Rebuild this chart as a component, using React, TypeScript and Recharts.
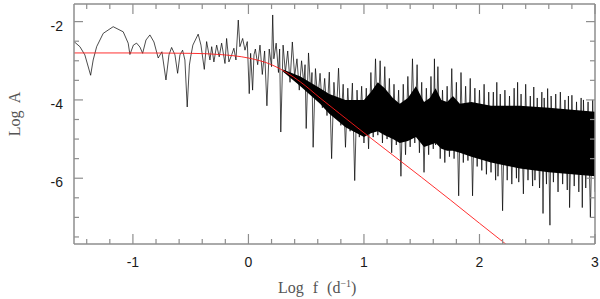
import React from 'react';
import { ComposedChart, Line, Area, XAxis, YAxis } from 'recharts';

// resolved low-frequency part of the spectrum [log f, log A]
const lowPart: [number, number][] = [
  [-1.51, -2.51], [-1.459, -2.64], [-1.416, -2.85], [-1.366, -3.37], [-1.344, -2.98], [-1.314, -2.64],
  [-1.257, -2.3], [-1.171, -2.13], [-1.084, -2.26], [-1.041, -2.55], [-1.026, -2.84], [-0.996, -2.6],
  [-0.968, -2.55], [-0.939, -2.65], [-0.916, -2.81], [-0.887, -2.47], [-0.853, -2.34], [-0.818, -2.52],
  [-0.781, -2.93], [-0.749, -2.77], [-0.714, -3.49], [-0.688, -2.85], [-0.665, -2.66], [-0.636, -2.85],
  [-0.613, -3.32], [-0.593, -2.85], [-0.57, -2.73], [-0.55, -2.98], [-0.53, -4.18], [-0.511, -3.11],
  [-0.5, -2.9], [-0.481, -2.6], [-0.435, -2.32], [-0.411, -2.6], [-0.382, -3.22], [-0.362, -2.51],
  [-0.333, -2.98], [-0.318, -2.64], [-0.299, -3.03], [-0.275, -2.6], [-0.253, -2.9], [-0.232, -2.55],
  [-0.203, -3.07], [-0.189, -2.43], [-0.169, -3.03], [-0.145, -2.85], [-0.126, -2.68], [-0.108, -2.98],
  [-0.088, -1.96], [-0.074, -2.64], [-0.05, -2.43], [-0.03, -2.73], [-0.01, -2.51], [0.007, -3.84],
  [0.019, -2.81], [0.036, -3.75], [0.048, -2.85],
];

// noisy high-frequency part, read as alternating tips
const noisePart: [number, number][] = [
  [0.06, -2.7], [0.08, -3.1], [0.1, -2.6], [0.12, -3.35], [0.14, -2.75], [0.16, -4.15], [0.18, -2.7], [0.2, -3.15], [0.21, -1.83], [0.22, -2.95],
  [0.24, -2.55], [0.26, -3.3], [0.27, -2.7], [0.28, -4.82], [0.3, -2.6], [0.32, -3.3], [0.34, -2.75], [0.36, -3.55], [0.38, -2.52], [0.4, -3.4],
  [0.42, -2.95], [0.44, -3.75], [0.46, -3.0], [0.48, -3.6], [0.49, -3.1], [0.5, -4.73], [0.52, -2.8], [0.54, -3.85], [0.55, -3.3], [0.56, -5.21],
  [0.58, -3.2], [0.6, -4.0], [0.62, -3.32], [0.64, -4.2], [0.66, -3.45], [0.68, -4.4], [0.7, -3.29], [0.72, -5.5], [0.74, -3.55], [0.76, -4.45],
  [0.78, -3.19], [0.8, -4.65], [0.82, -3.6], [0.84, -5.21], [0.86, -3.7], [0.88, -4.8], [0.9, -3.57], [0.92, -6.06], [0.94, -3.75], [0.96, -4.95],
  [0.98, -3.65], [1.0, -5.1], [1.02, -3.7], [1.04, -5.25], [1.06, -3.3], [1.08, -4.95], [1.1, -2.95], [1.12, -4.9], [1.14, -3.0], [1.16, -5.1],
  [1.18, -3.15], [1.2, -5.0], [1.22, -3.45], [1.24, -5.35], [1.26, -3.6], [1.28, -5.15], [1.3, -3.75], [1.32, -5.95], [1.34, -3.6], [1.36, -5.4],
  [1.38, -3.4], [1.4, -5.2], [1.42, -2.95], [1.44, -5.1], [1.46, -3.1], [1.48, -5.35], [1.5, -3.55], [1.52, -5.85], [1.54, -3.7], [1.56, -5.4],
  [1.58, -3.4], [1.6, -5.25], [1.61, -2.95], [1.62, -5.15], [1.64, -3.15], [1.66, -5.5], [1.68, -3.75], [1.7, -5.6], [1.72, -3.65], [1.74, -5.45],
  [1.76, -3.2], [1.78, -5.5], [1.8, -3.55], [1.82, -6.45], [1.84, -3.3], [1.86, -5.6], [1.88, -3.65], [1.9, -5.55], [1.92, -3.45], [1.94, -6.45],
  [1.96, -3.7], [1.98, -5.7], [2.0, -3.75], [2.02, -5.8], [2.04, -3.6], [2.06, -5.9], [2.08, -3.8], [2.1, -5.85], [2.12, -3.8], [2.14, -6.05],
  [2.15, -3.55], [2.16, -5.95], [2.18, -3.85], [2.2, -6.83], [2.22, -3.75], [2.24, -6.05], [2.26, -3.9], [2.28, -6.15], [2.3, -3.7], [2.32, -6.0],
  [2.33, -3.55], [2.34, -6.1], [2.36, -3.85], [2.38, -6.4], [2.4, -3.6], [2.42, -6.05], [2.44, -3.9], [2.46, -6.2], [2.47, -3.67], [2.48, -6.05],
  [2.5, -3.95], [2.52, -6.25], [2.54, -3.8], [2.55, -6.9], [2.56, -3.95], [2.58, -6.15], [2.59, -3.71], [2.61, -7.2], [2.62, -3.9], [2.64, -6.1],
  [2.66, -3.85], [2.68, -6.35], [2.7, -3.8], [2.72, -6.15], [2.74, -4.0], [2.76, -6.3], [2.77, -3.9], [2.78, -6.75], [2.8, -3.88], [2.82, -6.2],
  [2.84, -4.05], [2.86, -6.35], [2.88, -3.95], [2.89, -6.75], [2.9, -4.0], [2.92, -6.25], [2.94, -4.05], [2.96, -7.0], [2.98, -4.0], [3.0, -6.35],
];

// dense core of the noise
const bandF = [0.3, 0.45, 0.62, 0.7, 0.84, 1.0, 1.06, 1.12, 1.18, 1.25, 1.31, 1.38, 1.45, 1.52, 1.57, 1.62, 1.67, 1.72, 1.77, 1.83, 1.93, 2.1, 2.35, 2.6, 2.8, 3.0];
const bandHi = [-3.22, -3.4, -3.7, -3.85, -4.0, -4.0, -3.8, -3.55, -3.7, -3.95, -4.1, -3.95, -3.65, -4.05, -3.95, -3.7, -4.0, -4.05, -3.9, -4.1, -4.05, -4.15, -4.15, -4.2, -4.25, -4.3];
const bandLo = [-3.28, -3.65, -4.1, -4.35, -4.7, -4.95, -4.85, -4.8, -4.9, -5.0, -5.1, -5.05, -4.95, -5.2, -5.15, -5.1, -5.25, -5.3, -5.3, -5.35, -5.45, -5.6, -5.75, -5.85, -5.9, -5.95];

// red model curve
const modelF = [-1.51, -1.0, -0.5, -0.25, 0.0, 0.2, 0.45, 0.62, 0.79, 1.0, 1.25, 1.5, 1.75, 2.0, 2.24];
const modelA = [-2.8, -2.8, -2.81, -2.84, -2.93, -3.1, -3.54, -3.95, -4.35, -4.84, -5.41, -5.98, -6.56, -7.15, -7.71];

const xTicks = [-1.4, -1.2, -1, -0.8, -0.6, -0.4, -0.2, 0, 0.2, 0.4, 0.6, 0.8, 1, 1.2, 1.4, 1.6, 1.8, 2, 2.2, 2.4, 2.6, 2.8, 3];
const yTicks = [-7.5, -7, -6.5, -6, -5.5, -5, -4.5, -4, -3.5, -3, -2.5, -2];
const yLabels = [-2, -4, -6];

const spectrum = [...lowPart, ...noisePart].map(([f, a]) => ({ f, a }));
const band = bandF.map((f, i) => ({ f, r: [bandLo[i], bandHi[i]] }));
const model = modelF.map((f, i) => ({ f, a: modelA[i] }));

const frame = '#8e8e8e';
const sans = '"Liberation Sans", Arial, sans-serif';
const serif = '"Liberation Serif", "Times New Roman", serif';

const isInt = (v: number) => Math.abs(v - Math.round(v)) < 1e-6;

const BottomTick = (props: any) => {
  const { x, y, payload } = props;
  const v = payload.value;
  const major = isInt(v);
  return (
    <g>
      <line x1={x} x2={x} y1={y} y2={y - (major ? 10 : 5)} stroke={frame} strokeWidth={1.2} />
      {major && (
        <text x={x} y={y + 23} textAnchor="middle" fontSize={14} fontFamily={sans} fill="#1a1a1a">
          {String(v)}
        </text>
      )}
    </g>
  );
};

const TopTick = (props: any) => {
  const { x, y, payload } = props;
  const major = isInt(payload.value);
  return <line x1={x} x2={x} y1={y} y2={y + (major ? 10 : 5)} stroke={frame} strokeWidth={1.2} />;
};

const LeftTick = (props: any) => {
  const { x, y, payload } = props;
  const v = payload.value;
  const major = yLabels.includes(v);
  return (
    <g>
      <line x1={x} x2={x + (major ? 9 : 5)} y1={y} y2={y} stroke={frame} strokeWidth={1.2} />
      {major && (
        <text x={x - 11} y={y + 9} textAnchor="end" fontSize={14} fontFamily={sans} fill="#1a1a1a">
          {String(v)}
        </text>
      )}
    </g>
  );
};

const RightTick = (props: any) => {
  const { x, y, payload } = props;
  const major = yLabels.includes(payload.value);
  return <line x1={x} x2={x - (major ? 9 : 5)} y1={y} y2={y} stroke={frame} strokeWidth={1.2} />;
};

const axisLine = { stroke: frame, strokeWidth: 1.5 };

export default function App() {
  return (
    <div style={{ position: 'absolute', left: 0, top: 0, width: 600, height: 299, background: '#fff' }}>
      <ComposedChart width={600} height={299} margin={{ top: 2, right: 3, bottom: 25, left: 34 }}>
        <XAxis
          dataKey="f"
          type="number"
          domain={[-1.51, 3]}
          allowDataOverflow
          ticks={xTicks}
          interval={0}
          tick={BottomTick}
          tickLine={false}
          tickSize={0}
          tickMargin={0}
          height={30}
          axisLine={axisLine}
        />
        <XAxis
          xAxisId="top"
          orientation="top"
          dataKey="f"
          type="number"
          domain={[-1.51, 3]}
          allowDataOverflow
          ticks={xTicks}
          interval={0}
          tick={TopTick}
          tickLine={false}
          tickSize={0}
          tickMargin={0}
          height={2}
          axisLine={axisLine}
        />
        <YAxis
          type="number"
          domain={[-7.68, -1.55]}
          allowDataOverflow
          ticks={yTicks}
          interval={0}
          tick={LeftTick}
          tickLine={false}
          tickSize={0}
          tickMargin={0}
          width={40}
          axisLine={axisLine}
        />
        <YAxis
          yAxisId="right"
          orientation="right"
          type="number"
          domain={[-7.68, -1.55]}
          allowDataOverflow
          ticks={yTicks}
          interval={0}
          tick={RightTick}
          tickLine={false}
          tickSize={0}
          tickMargin={0}
          width={2}
          axisLine={axisLine}
        />
        <Area
          data={band}
          dataKey="r"
          type="linear"
          stroke="none"
          fill="#000"
          fillOpacity={1}
          isAnimationActive={false}
          activeDot={false}
        />
        <Line
          data={spectrum}
          dataKey="a"
          type="linear"
          stroke="#000"
          strokeWidth={0.7}
          dot={false}
          activeDot={false}
          isAnimationActive={false}
        />
        <Line
          data={model}
          dataKey="a"
          type="monotone"
          stroke="#ff1a1a"
          strokeWidth={0.9}
          dot={false}
          activeDot={false}
          isAnimationActive={false}
        />
      </ComposedChart>
      <div
        style={{
          position: 'absolute',
          left: 15,
          top: 114,
          transform: 'translate(-50%, -50%) rotate(-90deg)',
          fontFamily: serif,
          fontSize: 16,
          color: '#555',
          whiteSpace: 'nowrap',
          wordSpacing: 4,
        }}
      >
        Log A
      </div>
      <div
        style={{
          position: 'absolute',
          left: 278,
          top: 278,
          fontFamily: serif,
          fontSize: 16,
          color: '#555',
          whiteSpace: 'nowrap',
          wordSpacing: 5,
        }}
      >
        Log f (d<sup style={{ fontSize: 10 }}>−1</sup>)
      </div>
    </div>
  );
}
